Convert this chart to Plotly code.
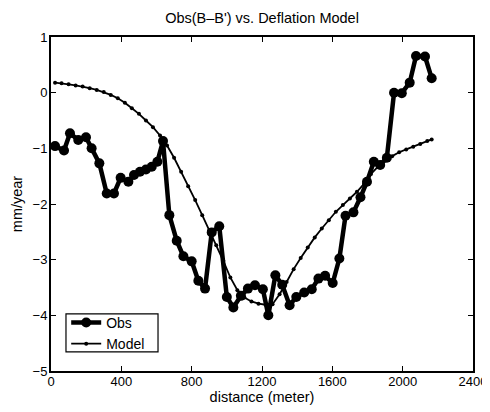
import plotly.graph_objects as go

obs_x = [23, 74, 108, 155, 199, 231, 275, 317, 358, 396, 440, 472, 506, 540, 573, 605, 637,
         673, 715, 753, 800, 838, 876, 914, 957, 1000, 1037, 1080, 1120, 1160, 1205, 1236,
         1276, 1315, 1357, 1395, 1440, 1483, 1521, 1559, 1602, 1640, 1675, 1720, 1760, 1797,
         1836, 1872, 1910, 1951, 1995, 2040, 2076, 2127, 2165]
obs_y = [-0.96, -1.04, -0.73, -0.85, -0.80, -1.00, -1.27, -1.81, -1.81, -1.53, -1.60, -1.48,
         -1.42, -1.38, -1.33, -1.24, -0.87, -2.20, -2.66, -2.94, -3.03, -3.38, -3.52, -2.51,
         -2.40, -3.67, -3.86, -3.65, -3.52, -3.46, -3.53, -4.00, -3.28, -3.45, -3.82, -3.67,
         -3.59, -3.53, -3.34, -3.29, -3.42, -2.98, -2.21, -2.15, -1.88, -1.60, -1.24, -1.30,
         -1.17, 0.00, -0.01, 0.18, 0.66, 0.65, 0.26]

model_x = [23, 60, 100, 140, 180, 220, 260, 300, 340, 380, 420, 460, 500, 540, 580, 620,
           660, 700, 740, 780, 820, 860, 900, 940, 980, 1020, 1060, 1100, 1140, 1180, 1220,
           1260, 1300, 1340, 1380, 1420, 1460, 1500, 1540, 1580, 1620, 1660, 1700, 1740,
           1780, 1820, 1860, 1900, 1940, 1980, 2020, 2060, 2100, 2140, 2165]
model_y = [0.18, 0.17, 0.15, 0.13, 0.11, 0.08, 0.05, 0.01, -0.04, -0.10, -0.18, -0.28,
           -0.38, -0.50, -0.62, -0.77, -0.95, -1.17, -1.42, -1.68, -1.93, -2.20, -2.47,
           -2.74, -3.02, -3.32, -3.55, -3.68, -3.75, -3.79, -3.81, -3.80, -3.62, -3.40,
           -3.17, -2.97, -2.78, -2.60, -2.44, -2.29, -2.14, -2.02, -1.90, -1.78, -1.64,
           -1.46, -1.33, -1.22, -1.14, -1.07, -1.02, -0.97, -0.92, -0.87, -0.84]

x_ticks = [0, 400, 800, 1200, 1600, 2000, 2400]
y_ticks = [-5, -4, -3, -2, -1, 0, 1]

font = "Liberation Sans, Arial, sans-serif"

fig = go.Figure()
fig.add_trace(go.Scatter(x=obs_x, y=obs_y, mode="lines+markers", name="Obs",
                         line=dict(color="black", width=4.5),
                         marker=dict(color="black", size=10, symbol="circle")))
fig.add_trace(go.Scatter(x=model_x, y=model_y, mode="lines+markers", name="Model",
                         line=dict(color="black", width=1.8),
                         marker=dict(color="black", size=4, symbol="circle")))

axis_common = dict(showgrid=False, zeroline=False, showline=True, linecolor="black",
                   linewidth=2, mirror="ticks", ticks="inside", ticklen=5, tickwidth=1,
                   tickcolor="black", automargin=False,
                   tickfont=dict(family=font, size=13, color="black"))

fig.update_layout(
    width=482, height=404,
    margin=dict(l=43, r=17, t=29, b=41),
    paper_bgcolor="white", plot_bgcolor="white",
    title=dict(text="Obs(B\u2013B') vs. Deflation Model", x=0.527, xanchor="center",
               y=0.975, yanchor="middle",
               font=dict(family=font, size=14.5, color="black")),
    xaxis=dict(range=[0, 2400], tickvals=x_ticks, ticklabelstandoff=-3,
               title=dict(text="distance (meter)", standoff=2,
                          font=dict(family=font, size=14.5, color="black")),
               **axis_common),
    yaxis=dict(range=[-5, 1], tickvals=y_ticks, ticklabelstandoff=-1,
               title=dict(text="mm/year", standoff=6,
                          font=dict(family=font, size=14.5, color="black")),
               **axis_common),
    legend=dict(x=0.036, y=0.192, xanchor="left", yanchor="top",
                bgcolor="rgba(0,0,0,0)", borderwidth=0,
                font=dict(family=font, size=14, color="black"),
                tracegroupgap=0, itemwidth=30),
    showlegend=True,
    shapes=[dict(type="rect", xref="paper", yref="paper",
                 x0=0.0355, x1=0.2536, y0=0.057, y1=0.171,
                 line=dict(color="black", width=1.2), fillcolor="white",
                 layer="below")],
)

fig.write_html("out.html")
